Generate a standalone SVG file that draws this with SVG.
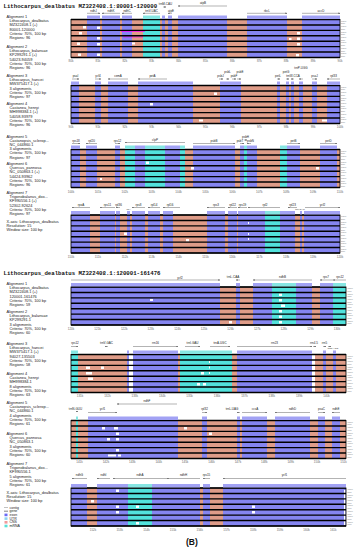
<svg xmlns="http://www.w3.org/2000/svg" width="360" height="550" viewBox="0 0 360 550">
<style>
text{font-family:"Liberation Sans",Arial,sans-serif}
.tt{font-family:"Liberation Mono","Courier New",monospace;font-weight:bold;font-size:5.7px;fill:#111}
.lb{font-size:3.9px;fill:#222}
.gl{font-size:3px;fill:#222;text-anchor:middle}
.sm{font-size:2.4px}
.tk{font-size:3px;fill:#666;text-anchor:middle}
.pc{font-size:2.1px;fill:#777}
.e{fill:#8585f0}.c{fill:#df9c88}.u{fill:#52e2dc}.w{fill:#fff}
.gb{fill:#a2a2f4}.gu{fill:#86e6e2}
.rl{stroke:#000;stroke-width:1.4;fill:none}
.bx{fill:none;stroke:#000;stroke-width:.8}
.ga{stroke:#555;stroke-width:.45;fill:none;marker-end:url(#ah)}
.lg{font-size:3.5px;fill:#222}
</style>
<defs>
<marker id="ah" viewBox="0 0 4 4" refX="3.5" refY="2" markerUnits="userSpaceOnUse" markerWidth="1.8" markerHeight="1.8" orient="auto"><path d="M0 0L4 2L0 4z" fill="#555"/></marker>
<g id="rT"><path class="rl" d="M71 0H340M71 5.43H340M71 10.86H340M71 16.29H340M71 21.71H340M71 27.14H340M71 32.57H340M71 38H340"/><rect class="bx" x="71" y="0" width="269" height="38"/></g>
<g id="rB"><path class="rl" d="M71 0H346M71 5.43H346M71 10.86H346M71 16.29H346M71 21.71H346M71 27.14H346M71 32.57H346M71 38H346"/><rect class="bx" x="71" y="0" width="275" height="38"/></g>
<g id="pc" class="pc"><text y="2.2">100%</text><text y="4.9">50%</text><text y="7.63">100%</text><text y="10.33">50%</text><text y="13.06">100%</text><text y="15.76">50%</text><text y="18.49">100%</text><text y="21.19">50%</text><text y="23.91">100%</text><text y="26.61">50%</text><text y="29.34">100%</text><text y="32.04">50%</text><text y="34.77">100%</text><text y="37.47">50%</text></g>
</defs>
<rect width="360" height="550" fill="#fff"/>
<text class="tt" x="3.5" y="7.5">Lithocarpus_dealbatus MZ322408.1:80001-120000</text>
<text class="tt" x="3.5" y="275">Lithocarpus_dealbatus MZ322408.1:120001-161476</text>

<g id="labels-top" class="lb">
<text x="6.5" y="18">Alignment 1<tspan x="9.5" dy="4.2">Lithocarpus_dealbatus</tspan><tspan x="9.5" dy="4.2">MZ322408.1 (+)</tspan><tspan x="9.5" dy="4.2">80001-120000</tspan><tspan x="9.5" dy="4.2">Criteria: 70%, 100 bp</tspan><tspan x="9.5" dy="4.2">Regions: 96</tspan></text>
<text x="6.5" y="48">Alignment 2<tspan x="9.5" dy="4.2">Lithocarpus_balansae</tspan><tspan x="9.5" dy="4.2">KP299291.1 (+)</tspan><tspan x="9.5" dy="4.2">54023-94059</tspan><tspan x="9.5" dy="4.2">Criteria: 70%, 100 bp</tspan><tspan x="9.5" dy="4.2">Regions: 96</tspan></text>
<text x="6.5" y="77">Alignment 3<tspan x="9.5" dy="4.2">Lithocarpus_hancei</tspan><tspan x="9.5" dy="4.2">MW375417.1 (+)</tspan><tspan x="9.5" dy="4.2">3 alignments</tspan><tspan x="9.5" dy="4.2">Criteria: 70%, 100 bp</tspan><tspan x="9.5" dy="4.2">Regions: 97</tspan></text>
<text x="6.5" y="105">Alignment 4<tspan x="9.5" dy="4.2">Castanea_henryi</tspan><tspan x="9.5" dy="4.2">MH998384.1 (+)</tspan><tspan x="9.5" dy="4.2">54058-93979</tspan><tspan x="9.5" dy="4.2">Criteria: 70%, 100 bp</tspan><tspan x="9.5" dy="4.2">Regions: 96</tspan></text>
<text x="6.5" y="137.5">Alignment 5<tspan x="9.5" dy="4.2">Castanopsis_sclerop...</tspan><tspan x="9.5" dy="4.2">NC_044860.1</tspan><tspan x="9.5" dy="4.2">3 alignments</tspan><tspan x="9.5" dy="4.2">Criteria: 70%, 100 bp</tspan><tspan x="9.5" dy="4.2">Regions: 97</tspan></text>
<text x="6.5" y="165">Alignment 6<tspan x="9.5" dy="4.2">Quercus_pannosa</tspan><tspan x="9.5" dy="4.2">NC_050863.1 (+)</tspan><tspan x="9.5" dy="4.2">54424-93962</tspan><tspan x="9.5" dy="4.2">Criteria: 70%, 100 bp</tspan><tspan x="9.5" dy="4.2">Regions: 96</tspan></text>
<text x="6.5" y="194">Alignment 7<tspan x="9.5" dy="4.2">Trigonobalanus_dox...</tspan><tspan x="9.5" dy="4.2">KF990556.1 (+)</tspan><tspan x="9.5" dy="4.2">52302-92624</tspan><tspan x="9.5" dy="4.2">Criteria: 70%, 100 bp</tspan><tspan x="9.5" dy="4.2">Regions: 97</tspan></text>
<text x="6.5" y="223">X-axis: Lithocarpus_dealbatus<tspan x="6.5" dy="4.2">Resolution: 15</tspan><tspan x="6.5" dy="4.2">Window size: 100 bp</tspan></text>
</g>

<g id="labels-bottom" class="lb">
<text x="6.5" y="285">Alignment 1<tspan x="9.5" dy="4.2">Lithocarpus_dealbatus</tspan><tspan x="9.5" dy="4.2">MZ322408.1 (+)</tspan><tspan x="9.5" dy="4.2">120001-161476</tspan><tspan x="9.5" dy="4.2">Criteria: 70%, 100 bp</tspan><tspan x="9.5" dy="4.2">Regions: 59</tspan></text>
<text x="6.5" y="313">Alignment 2<tspan x="9.5" dy="4.2">Lithocarpus_balansae</tspan><tspan x="9.5" dy="4.2">KP299291.1</tspan><tspan x="9.5" dy="4.2">3 alignments</tspan><tspan x="9.5" dy="4.2">Criteria: 70%, 100 bp</tspan><tspan x="9.5" dy="4.2">Regions: 60</tspan></text>
<text x="6.5" y="345">Alignment 3<tspan x="9.5" dy="4.2">Lithocarpus_hancei</tspan><tspan x="9.5" dy="4.2">MW375417.1 (+)</tspan><tspan x="9.5" dy="4.2">94027-135503</tspan><tspan x="9.5" dy="4.2">Criteria: 70%, 100 bp</tspan><tspan x="9.5" dy="4.2">Regions: 58</tspan></text>
<text x="6.5" y="375">Alignment 4<tspan x="9.5" dy="4.2">Castanea_henryi</tspan><tspan x="9.5" dy="4.2">MH998384.1</tspan><tspan x="9.5" dy="4.2">8 alignments</tspan><tspan x="9.5" dy="4.2">Criteria: 70%, 100 bp</tspan><tspan x="9.5" dy="4.2">Regions: 63</tspan></text>
<text x="6.5" y="404">Alignment 5<tspan x="9.5" dy="4.2">Castanopsis_sclerop...</tspan><tspan x="9.5" dy="4.2">NC_044860.1</tspan><tspan x="9.5" dy="4.2">4 alignments</tspan><tspan x="9.5" dy="4.2">Criteria: 70%, 100 bp</tspan><tspan x="9.5" dy="4.2">Regions: 61</tspan></text>
<text x="6.5" y="435">Alignment 6<tspan x="9.5" dy="4.2">Quercus_pannosa</tspan><tspan x="9.5" dy="4.2">NC_050863.1</tspan><tspan x="9.5" dy="4.2">3 alignments</tspan><tspan x="9.5" dy="4.2">Criteria: 70%, 100 bp</tspan><tspan x="9.5" dy="4.2">Regions: 60</tspan></text>
<text x="6.5" y="465">Alignment 7<tspan x="9.5" dy="4.2">Trigonobalanus_dox...</tspan><tspan x="9.5" dy="4.2">KF990556.1</tspan><tspan x="9.5" dy="4.2">5 alignments</tspan><tspan x="9.5" dy="4.2">Criteria: 70%, 100 bp</tspan><tspan x="9.5" dy="4.2">Regions: 61</tspan></text>
<text x="6.5" y="494">X-axis: Lithocarpus_dealbatus<tspan x="6.5" dy="4.2">Resolution: 15</tspan><tspan x="6.5" dy="4.2">Window size: 100 bp</tspan></text>
</g>

<g id="legend">
<path d="M4 507.5H8" stroke="#999" stroke-width=".6"/>
<path d="M4 511.2H8" stroke="#333" stroke-width=".6"/>
<rect x="4.5" y="513.6" width="3" height="2.6" fill="#6b6bf5"/>
<rect x="4.5" y="517.3" width="3" height="2.6" fill="#8fd3f0"/>
<rect x="4.5" y="521" width="3" height="2.6" fill="#f09a9a"/>
<rect x="4.5" y="524.7" width="3" height="2.6" fill="#58e0d8"/>
<g class="lg"><text x="9.5" y="508.6">contig</text><text x="9.5" y="512.3">gene</text><text x="9.5" y="516">exon</text><text x="9.5" y="519.7">UTR</text><text x="9.5" y="523.4">CNS</text><text x="9.5" y="527.1">mRNA</text></g>
</g>

<g id="panel-1">
<rect class="c" x="71" y="19.5" width="269" height="38"/>
<path class="e" d="M87 19.5h13v38h-13zM102 19.5h18v38h-18zM122 19.5h10v38h-10zM162 19.5h3v38h-3zM168 19.5h4v38h-4zM178 19.5h49v38h-49zM247 19.5h40v38h-40zM302 19.5h38v38h-38z"/>
<path class="u" d="M143 19.5h17v38h-17z"/>
<path d="M121 31.5h24M123 37h20" stroke="#f0f" stroke-width=".7"/>
<path class="w" d="M83 26h3v2.5h-3zM97 26.5h3v2.5h-3zM79 32h3v2.5h-3zM97 37h3v2.5h-3zM77 42.5h3v2.5h-3zM97 43h3v2.5h-3zM78 53.5h3v2.5h-3zM97 53.5h3v2.5h-3zM132 42.5h3v2h-3zM297 32h3v2.5h-3zM297 37.5h3v2.5h-3zM289 38h2.5v2h-2.5zM297 43h3v2.5h-3zM296 54h3v2.5h-3z"/>
<use href="#rT" y="19.5"/>
<path class="gb" d="M87 15.5h13v3.5h-13zM102 15.5h18v3.5h-18zM122 15.5h10v3.5h-10zM162 15.5h3v3.5h-3zM168 15.5h4v3.5h-4zM178 15.5h49v3.5h-49zM247 15.5h40v3.5h-40zM302 15.5h38v3.5h-38z"/>
<path class="gu" d="M143 15.5h17v3.5h-17z"/>
<path class="ga" d="M87 13.3H100"/><path class="ga" d="M120 13.3H102"/><path class="ga" d="M132 13.3H122"/><path class="ga" d="M160 13.3H143"/><path class="ga" d="M163 7H166"/><path class="ga" d="M172 13.3H168"/><path class="ga" d="M227 6H178"/><path class="ga" d="M247 13.3H287"/><path class="ga" d="M302 13.3H340"/>
<g class="gl"><text x="93.5" y="11.7">ndhJ</text><text x="111" y="11.7">ndhK</text><text x="127" y="11.7">ndhC</text><text x="151.5" y="11.7">trnV-UAC</text><text x="165.5" y="5">trnM-CAU</text><text x="171" y="11.7">atpE</text><text x="203" y="4">atpB</text><text x="267" y="11.7">rbcL</text><text x="321" y="11.7">accD</text></g>
<g class="tk"><text x="71" y="62">80k</text><text x="97.9" y="62">81k</text><text x="124.8" y="62">82k</text><text x="151.7" y="62">83k</text><text x="178.6" y="62">84k</text><text x="205.5" y="62">85k</text><text x="232.4" y="62">86k</text><text x="259.3" y="62">87k</text><text x="286.2" y="62">88k</text><text x="313.1" y="62">89k</text><text x="340" y="62">90k</text></g>
<use href="#pc" x="341" y="19.5"/>
</g>

<g id="panel-2">
<rect class="c" x="71" y="85.5" width="269" height="38"/>
<path class="e" d="M71 85.5h8v38h-8zM95 85.5h6v38h-6zM108 85.5h20v38h-20zM138 85.5h55v38h-55zM220 85.5h21v38h-21zM277 85.5h3v38h-3zM286 85.5h3v38h-3zM291 85.5h3v38h-3zM299 85.5h4v38h-4zM312 85.5h5v38h-5zM327 85.5h13v38h-13z"/>
<path class="w" d="M214 92.5h3v2.5h-3zM199 119.5h4v2h-4zM322 119.5h5v2h-5zM150 103h3v2.5h-3z"/>
<use href="#rT" y="85.5"/>
<path class="gb" d="M71 81.5h8v3.5h-8zM95 81.5h6v3.5h-6zM108 81.5h20v3.5h-20zM138 81.5h55v3.5h-55zM220 81.5h21v3.5h-21zM277 81.5h3v3.5h-3zM286 81.5h3v3.5h-3zM291 81.5h3v3.5h-3zM299 81.5h4v3.5h-4zM312 81.5h5v3.5h-5zM327 81.5h13v3.5h-13z"/>
<path class="ga" d="M72 79H79"/><path class="ga" d="M95 79H101"/><path class="ga" d="M128 79H108"/><path class="ga" d="M167 79H138"/><path class="ga" d="M219 79H223"/><path class="ga" d="M226 79H229"/><path class="ga" d="M232 79H236"/><path class="ga" d="M237 79H241"/><path class="ga" d="M277 79H280"/><path class="ga" d="M286 79H289"/><path class="ga" d="M294 79H291"/><path class="ga" d="M303 79H299"/><path class="ga" d="M312 79H317"/><path class="ga" d="M340 79H327"/>
<g class="gl"><text x="75.5" y="77">psaI</text><text x="98" y="77">ycf4</text><text x="118" y="77">cemA</text><text x="152.5" y="77">petA</text><text x="220.5" y="77">psbJ</text><text x="227.5" y="73">psbL</text><text x="234" y="77">psbF</text><text x="240" y="73">psbE</text><text x="278" y="77">petL</text><text x="286" y="73">petG</text><text x="293" y="77">trnW-CCA</text><text x="301" y="69">trnP-UGG</text><text x="314.5" y="77">psaJ</text><text x="333.5" y="77">rpl33</text></g>
<g class="tk"><text x="71" y="128">90k</text><text x="97.9" y="128">91k</text><text x="124.8" y="128">92k</text><text x="151.7" y="128">93k</text><text x="178.6" y="128">94k</text><text x="205.5" y="128">95k</text><text x="232.4" y="128">96k</text><text x="259.3" y="128">97k</text><text x="286.2" y="128">98k</text><text x="313.1" y="128">99k</text><text x="340" y="128">100k</text></g>
<use href="#pc" x="341" y="85.5"/>
</g>

<g id="panel-3">
<rect class="c" x="71" y="149.5" width="269" height="38"/>
<path class="e" d="M71 149.5h9v38h-9zM86 149.5h11v38h-11zM115 149.5h5v38h-5zM135 149.5h10v38h-10zM165 149.5h15v38h-15zM193 149.5h42v38h-42zM240 149.5h4v38h-4zM247 149.5h10v38h-10zM287 149.5h13v38h-13zM320 149.5h17v38h-17z"/>
<path class="u" d="M125 149.5h10v38h-10zM145 149.5h20v38h-20zM180 149.5h5v38h-5zM244 149.5h3v38h-3zM280 149.5h7v38h-7z"/>
<path class="w" d="M146 161.5h3v2.5h-3zM191 167h3v2.5h-3zM316 167h3v2.5h-3zM100 178h2v2h-2z"/>
<use href="#rT" y="149.5"/>
<path class="gb" d="M71 145.5h9v3.5h-9zM86 145.5h11v3.5h-11zM115 145.5h5v3.5h-5zM135 145.5h10v3.5h-10zM165 145.5h15v3.5h-15zM193 145.5h42v3.5h-42zM240 145.5h4v3.5h-4zM247 145.5h10v3.5h-10zM287 145.5h13v3.5h-13zM320 145.5h17v3.5h-17z"/>
<path class="gu" d="M125 145.5h10v3.5h-10zM145 145.5h20v3.5h-20zM180 145.5h5v3.5h-5zM244 145.5h3v3.5h-3zM280 145.5h7v3.5h-7z"/>
<path class="ga" d="M72 143.5H80"/><path class="ga" d="M97 143.5H86"/><path class="ga" d="M115 143.5H120"/><path class="ga" d="M185 142.5H125"/><path class="ga" d="M193 143.5H235"/><path class="ga" d="M240 143.5H244"/><path class="ga" d="M244 140H247"/><path class="ga" d="M251 143.5H247"/><path class="ga" d="M287 143.5H300"/><path class="ga" d="M320 143.5H337"/>
<g class="gl"><text x="76" y="141.5">rps18</text><text x="91.5" y="141.5">rpl20</text><text x="117.5" y="141.5">rps12</text><text x="155" y="140.5">clpP</text><text x="214" y="141.5">psbB</text><text x="240" y="141.5">psbT</text><text x="245.5" y="138">psbH</text><text x="250.5" y="141.5">psbN</text><text x="293.5" y="141.5">petB</text><text x="328.5" y="141.5">petD</text></g>
<g class="tk"><text x="71" y="192.5">100k</text><text x="97.9" y="192.5">101k</text><text x="124.8" y="192.5">102k</text><text x="151.7" y="192.5">103k</text><text x="178.6" y="192.5">104k</text><text x="205.5" y="192.5">105k</text><text x="232.4" y="192.5">106k</text><text x="259.3" y="192.5">107k</text><text x="286.2" y="192.5">108k</text><text x="313.1" y="192.5">109k</text><text x="340" y="192.5">110k</text></g>
<use href="#pc" x="341" y="149.5"/>
</g>

<g id="panel-4">
<rect class="c" x="71" y="215" width="269" height="38"/>
<path class="e" d="M71 215h19v38h-19zM100 215h15v38h-15zM116 215h4v38h-4zM127 215h3v38h-3zM132 215h13v38h-13zM148 215h12v38h-12zM163 215h10v38h-10zM207 215h18v38h-18zM228 215h9v38h-9zM238 215h27v38h-27zM280 215h15v38h-15zM300 215h2v38h-2zM304 215h36v38h-36z"/>
<path class="u" d="M265 215h15v38h-15z"/>
<path class="w" d="M124 232.5h3v2.5h-3zM248 222h1v2h-1zM248 233h1v2h-1zM248 238h1v2h-1zM186 239h3v2.5h-3z"/>
<use href="#rT" y="215"/>
<path class="gb" d="M71 211h19v3.5h-19zM100 211h15v3.5h-15zM116 211h4v3.5h-4zM127 211h3v3.5h-3zM132 211h13v3.5h-13zM148 211h12v3.5h-12zM163 211h10v3.5h-10zM207 211h18v3.5h-18zM228 211h9v3.5h-9zM238 211h27v3.5h-27zM280 211h15v3.5h-15zM300 211h2v3.5h-2zM304 211h36v3.5h-36z"/>
<path class="gu" d="M265 211h15v3.5h-15z"/>
<path class="ga" d="M90 207.5H72"/><path class="ga" d="M115 207.5H100"/><path class="ga" d="M120 207.5H116"/><path class="ga" d="M145 207.5H132"/><path class="ga" d="M160 207.5H148"/><path class="ga" d="M180 207.5H163"/><path class="ga" d="M225 207.5H207"/><path class="ga" d="M237 207.5H228"/><path class="ga" d="M247 207.5H238"/><path class="ga" d="M280 207.5H248"/><path class="ga" d="M297 207.5H288"/><path class="ga" d="M305 207.5H340"/>
<g class="gl"><text x="81" y="205.5">rpoA</text><text x="107.5" y="205.5">rps11</text><text x="118.5" y="205.5">rpl36</text><text class="sm" x="128.5" y="210.2">infA</text><text x="138.5" y="205.5">rps8</text><text x="154" y="205.5">rpl14</text><text x="170" y="205.5">rpl16</text><text x="216" y="205.5">rps3</text><text x="232.5" y="205.5">rpl22</text><text x="242.5" y="205.5">rps19</text><text x="265" y="205.5">rpl2</text><text x="292.5" y="205.5">rpl23</text><text class="sm" x="300" y="210.2">trnI-CAU</text><text x="322.5" y="205.5">ycf2</text></g>
<g class="tk"><text x="71" y="257.5">110k</text><text x="97.9" y="257.5">111k</text><text x="124.8" y="257.5">112k</text><text x="151.7" y="257.5">113k</text><text x="178.6" y="257.5">114k</text><text x="205.5" y="257.5">115k</text><text x="232.4" y="257.5">116k</text><text x="259.3" y="257.5">117k</text><text x="286.2" y="257.5">118k</text><text x="313.1" y="257.5">119k</text><text x="340" y="257.5">120k</text></g>
<use href="#pc" x="341" y="215"/>
</g>

<g id="panel-5">
<rect class="c" x="71" y="287" width="275" height="38"/>
<path class="e" d="M71 287h149v38h-149zM236 287h4v38h-4zM253 287h19v38h-19zM296 287h16v38h-16zM320 287h13v38h-13z"/>
<path class="u" d="M272 287h24v38h-24zM333 287h13v38h-13z"/>
<path class="w" d="M279 293.5h3v2.5h-3zM279 299h3v2.5h-3zM281 304.5h4v2.5h-4zM279 310h3v2.5h-3zM279 315.5h3v2.5h-3zM229 321h3v2.5h-3zM279 321h3v2.5h-3zM150 299h3v2h-3z"/>
<use href="#rB" y="287"/>
<path class="gb" d="M71 283h149v3.5h-149zM236 283h4v3.5h-4zM253 283h19v3.5h-19zM296 283h16v3.5h-16zM320 283h13v3.5h-13z"/>
<path class="gu" d="M272 283h24v3.5h-24zM333 283h13v3.5h-13z"/>
<path class="ga" d="M71 280H220"/><path class="ga" d="M240 280H236"/><path class="ga" d="M312 280H253"/><path class="ga" d="M333 280H320"/><path class="ga" d="M346 280H333"/>
<g class="gl"><text x="180" y="278.6">ycf2</text><text x="233" y="277.5">trnL-CAA</text><text x="282.5" y="277.5">ndhB</text><text x="326" y="277.5">rps7</text><text x="340" y="277.5">rps12</text></g>
<g class="tk"><text x="71" y="329.5">120k</text><text x="97.6" y="329.5">121k</text><text x="124.2" y="329.5">122k</text><text x="150.8" y="329.5">123k</text><text x="177.4" y="329.5">124k</text><text x="204" y="329.5">125k</text><text x="230.6" y="329.5">126k</text><text x="257.2" y="329.5">127k</text><text x="283.8" y="329.5">128k</text><text x="310.4" y="329.5">129k</text><text x="337" y="329.5">130k</text></g>
<use href="#pc" x="347.5" y="287"/>
</g>

<g id="panel-6">
<rect class="c" x="71" y="354.5" width="275" height="38"/>
<path class="e" d="M127 354.5h2v38h-2zM133 354.5h45v38h-45zM237 354.5h75v38h-75zM323 354.5h3v38h-3zM333 354.5h3v38h-3z"/>
<path class="u" d="M71 354.5h7v38h-7zM180 354.5h52v38h-52z"/>
<path class="w" d="M129 354.5h4v38h-4zM312 354.5h3v38h-3zM86 366.5h4v2.5h-4zM101 366.5h3v2.5h-3zM86 372h6v2.5h-6zM88 377.5h5v2.5h-5zM209 361h1v2h-1zM209 366.5h1v2h-1zM209 372h1v2h-1zM201 372h3v2.5h-3zM197 383h3v2.5h-3zM203 383h3v2.5h-3z"/>
<use href="#rB" y="354.5"/>
<path class="gb" d="M127 350.5h2v3.5h-2zM133 350.5h45v3.5h-45zM237 350.5h75v3.5h-75zM323 350.5h3v3.5h-3zM333 350.5h3v3.5h-3z"/>
<path class="gu" d="M71 350.5h7v3.5h-7zM180 350.5h52v3.5h-52z"/>
<path class="ga" d="M71 346.5H78"/><path class="ga" d="M108 346.5H105"/><path class="ga" d="M133 346.5H178"/><path class="ga" d="M185 346.5H200"/><path class="ga" d="M210 346.5H230"/><path class="ga" d="M237 346.5H312"/><path class="ga" d="M313 346.5H316"/><path class="ga" d="M323 346.5H326"/><path class="ga" d="M328 346.5H331"/>
<g class="gl"><text x="75" y="344">rps12</text><text x="106.5" y="344">trnV-GAC</text><text x="155.5" y="344">rrn16</text><text x="192.5" y="344">trnI-GAU</text><text x="220" y="344">trnA-UGC</text><text x="274.5" y="344">rrn23</text><text x="314" y="344">rrn4.5</text><text x="324.5" y="344">rrn5</text><text class="sm" x="333" y="349.4">trnR-ACG</text></g>
<g class="tk"><text x="80" y="397">131k</text><text x="107.4" y="397">132k</text><text x="134.8" y="397">133k</text><text x="162.2" y="397">134k</text><text x="189.6" y="397">135k</text><text x="217" y="397">136k</text><text x="244.4" y="397">137k</text><text x="271.8" y="397">138k</text><text x="299.2" y="397">139k</text><text x="326.6" y="397">140k</text></g>
<use href="#pc" x="347.5" y="354.5"/>
</g>

<g id="panel-7">
<rect class="c" x="71" y="420.5" width="275" height="38"/>
<path class="e" d="M88 420.5h90v38h-90zM202 420.5h5v38h-5zM237 420.5h3v38h-3zM242 420.5h25v38h-25zM275 420.5h35v38h-35zM318 420.5h7v38h-7zM332 420.5h8v38h-8z"/>
<path class="u" d="M76 420.5h2v38h-2z"/>
<path class="w" d="M102 427h3v2.5h-3zM114 427h4v2.5h-4zM116 432.5h3v2.5h-3zM107 438h3v2.5h-3zM116 438h3v2.5h-3zM184 427h3v2.5h-3zM209 432.5h3v2.5h-3zM116 449h3v2.5h-3zM108 454.5h8v2h-8zM118 454.5h3v2h-3z"/>
<use href="#rB" y="420.5"/>
<path class="gb" d="M88 416.5h90v3.5h-90zM202 416.5h5v3.5h-5zM237 416.5h3v3.5h-3zM242 416.5h25v3.5h-25zM275 416.5h35v3.5h-35zM318 416.5h7v3.5h-7zM332 416.5h8v3.5h-8z"/>
<path class="gu" d="M76 416.5h2v3.5h-2z"/>
<path class="ga" d="M78 411.5H76"/><path class="ga" d="M88 412.5H117"/><path class="ga" d="M177 404H117"/><path class="ga" d="M202 412.5H207"/><path class="ga" d="M240 412.5H237"/><path class="ga" d="M242 412.5H267"/><path class="ga" d="M310 412.5H275"/><path class="ga" d="M318 412.5H325"/><path class="ga" d="M340 412.5H332"/>
<g class="gl"><text x="75.5" y="409.5">trnN-GUU</text><text x="102.5" y="410">ycf1</text><text x="147" y="402">ndhF</text><text x="204.5" y="410">rpl32</text><text x="232" y="410">trnL-UAG</text><text x="255" y="410">ccsA</text><text x="292.5" y="410">ndhD</text><text x="321.5" y="410">psaC</text><text x="336" y="410">ndhE</text></g>
<g class="tk"><text x="79.5" y="462.5">141k</text><text x="105.9" y="462.5">142k</text><text x="132.3" y="462.5">143k</text><text x="158.7" y="462.5">144k</text><text x="185.1" y="462.5">145k</text><text x="211.5" y="462.5">146k</text><text x="237.9" y="462.5">147k</text><text x="264.3" y="462.5">148k</text><text x="290.7" y="462.5">149k</text><text x="317.1" y="462.5">150k</text><text x="343.5" y="462.5">151k</text></g>
<use href="#pc" x="347.5" y="420.5"/>
</g>

<g id="panel-8">
<rect class="c" x="71" y="488" width="275" height="38"/>
<path class="e" d="M71 488h16v38h-16zM97 488h31v38h-31zM152 488h48v38h-48zM203 488h7v38h-7zM223 488h123v38h-123z"/>
<path class="u" d="M128 488h24v38h-24z"/>
<path class="w" d="M116 489.5h3v2.5h-3zM91 500h3v2.5h-3zM116 505.5h3v2.5h-3zM136 505.5h3v2.5h-3zM116 511h3v2.5h-3zM136 522h3v2.5h-3zM252 505.5h3v2.5h-3zM252 511h3v2.5h-3zM344 490h1.5v35h-1.5z"/>
<use href="#rB" y="488"/>
<path class="gb" d="M71 484h16v3.5h-16zM97 484h31v3.5h-31zM152 484h48v3.5h-48zM203 484h7v3.5h-7zM223 484h123v3.5h-123z"/>
<path class="gu" d="M128 484h24v3.5h-24z"/>
<path class="ga" d="M87 478.5H72"/><path class="ga" d="M110 478.5H97"/><path class="ga" d="M167 478.5H113"/><path class="ga" d="M200 478.5H167"/><path class="ga" d="M210 478.5H203"/><path class="ga" d="M346 478.5H223"/>
<g class="gl"><text x="79.5" y="476">ndhG</text><text x="103.5" y="476">ndhI</text><text x="140" y="476">ndhA</text><text x="183.5" y="476">ndhH</text><text x="206.5" y="476">rps15</text><text x="284.5" y="476">ycf1</text></g>
<g class="tk"><text x="93" y="530.5">152k</text><text x="119.7" y="530.5">153k</text><text x="146.4" y="530.5">154k</text><text x="173.1" y="530.5">155k</text><text x="199.8" y="530.5">156k</text><text x="226.5" y="530.5">157k</text><text x="253.2" y="530.5">158k</text><text x="279.9" y="530.5">159k</text><text x="306.6" y="530.5">160k</text><text x="333.3" y="530.5">161k</text></g>
<use href="#pc" x="347.5" y="488"/>
</g>

<text x="186" y="545" font-family="'Liberation Serif','Times New Roman',serif" font-weight="bold" font-size="8.5" fill="#111">(B)</text>
</svg>
